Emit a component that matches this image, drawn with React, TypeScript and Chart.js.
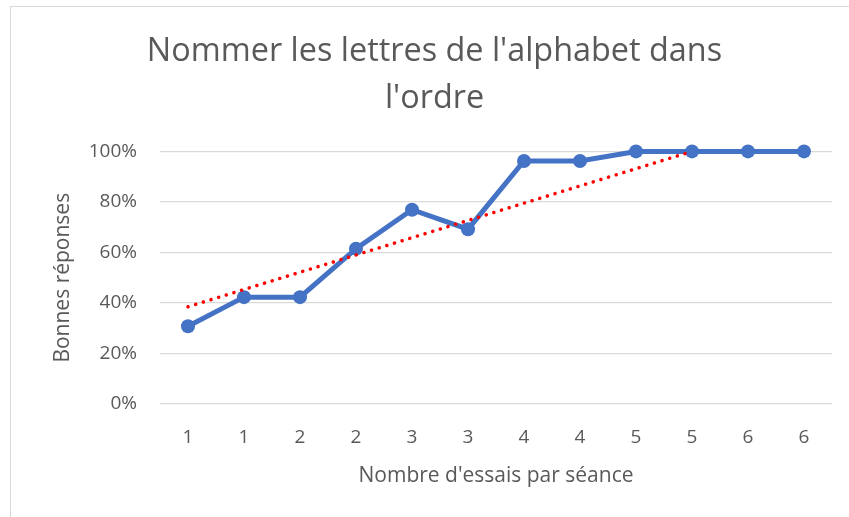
import React, { useEffect, useRef } from "react";
import { Chart, registerables } from "chart.js";

Chart.register(...registerables);

const titleLines = ["Nommer les lettres de l'alphabet dans", "l'ordre"];
const categories = ["1", "1", "2", "2", "3", "3", "4", "4", "5", "5", "6", "6"];
const bonnesReponses = [30.8, 42.3, 42.3, 61.5, 76.9, 69.2, 96.2, 96.2, 100, 100, 100, 100];
// linear trendline as drawn (Excel clips it at the 100% axis maximum)
const tendance = [38.5, null, null, null, null, null, null, null, null, 100, null, null];
const yTicks = [0, 20, 40, 60, 80, 100];
const xTitle = "Nombre d'essais par séance";
const yTitle = "Bonnes réponses";

const FONT = "'Open Sans', 'Noto Sans', sans-serif";
const GREY = "#595959";

export default function App() {
  const ref = useRef<HTMLCanvasElement | null>(null);

  useEffect(() => {
    if (!ref.current) return;
    const chart = new Chart(ref.current, {
      type: "line",
      data: {
        labels: categories,
        datasets: [
          {
            label: "Tendance",
            data: tendance as any,
            spanGaps: true,
            borderColor: "#FF0000",
            borderWidth: 3.5,
            borderDash: [0.1, 7.9],
            borderCapStyle: "round",
            pointRadius: 0,
            pointHoverRadius: 0,
            fill: false,
            tension: 0,
          },
          {
            label: "Bonnes réponses",
            data: bonnesReponses,
            clip: false as any,
            borderColor: "#4472C4",
            backgroundColor: "#4472C4",
            borderWidth: 5,
            pointRadius: 7,
            pointBorderWidth: 0,
            pointBackgroundColor: "#4472C4",
            fill: false,
            tension: 0,
          },
        ],
      },
      options: {
        responsive: false,
        animation: false,
        layout: { padding: { left: 37, right: 17, top: 0, bottom: 0 } },
        plugins: {
          legend: { display: false },
          tooltip: { enabled: false },
          title: {
            display: true,
            text: titleLines,
            color: GREY,
            font: { family: FONT, size: 32.4, weight: "400", lineHeight: 1.44 },
            padding: { top: 28.7, bottom: 29.4 },
          },
        },
        scales: {
          x: {
            offset: true,
            grid: { display: false, drawTicks: false },
            border: { display: false },
            ticks: { color: GREY, font: { family: FONT, size: 19 }, padding: 22, maxRotation: 0, autoSkip: false },
            title: {
              display: true,
              text: xTitle,
              color: GREY,
              font: { family: FONT, size: 21, lineHeight: 1.2 },
              padding: { top: 4, bottom: 28 },
            },
            afterFit: (s: any) => {
              s.height = 113;
            },
          },
          y: {
            min: 0,
            max: 100,
            afterBuildTicks: (s: any) => {
              s.ticks = yTicks.map((v) => ({ value: v }));
            },
            grid: { color: "#d9d9d9", lineWidth: 1.3, drawTicks: false },
            border: { display: false },
            ticks: {
              color: GREY,
              font: { family: FONT, size: 19 },
              padding: 23,
              callback: (v: any) => v + "%",
            },
            title: {
              display: true,
              text: yTitle,
              color: GREY,
              font: { family: FONT, size: 21, lineHeight: 1.2 },
              padding: { top: 13, bottom: 0 },
            },
            afterFit: (s: any) => {
              s.width = 123;
            },
          },
        },
      },
    });
    return () => chart.destroy();
  }, []);

  return (
    <div style={{ position: "fixed", left: 0, top: 0, width: 849, height: 517, background: "#fff" }}>
      <canvas ref={ref} width={849} height={517} style={{ display: "block", width: 849, height: 517 }} />
      <div
        style={{
          position: "absolute",
          left: 10,
          top: 6,
          width: 900,
          height: 600,
          borderLeft: "1px solid #d9d9d9",
          borderTop: "1px solid #d9d9d9",
          pointerEvents: "none",
        }}
      />
    </div>
  );
}
